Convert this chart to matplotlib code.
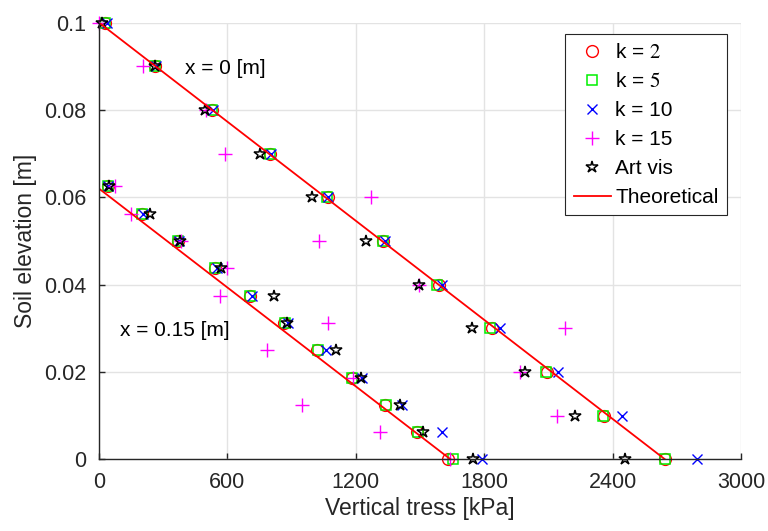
import numpy as np
import matplotlib
matplotlib.use('Agg')
import matplotlib.pyplot as plt
from matplotlib.ticker import FuncFormatter

plt.rcParams['font.family'] = ['Liberation Sans', 'DejaVu Sans']
plt.rcParams['mathtext.fontset'] = 'stix'

# elevations [m]
z_top = [0.1, 0.09, 0.08, 0.07, 0.06, 0.05, 0.04, 0.03, 0.02, 0.01, 0.0]
z_bot = [0.0625, 0.05625, 0.05, 0.04375, 0.0375, 0.03125, 0.025, 0.01875, 0.0125, 0.00625, 0.0]

# vertical stress [kPa], x = 0 m
k2_top = [30, 262, 526, 799, 1068, 1329, 1586, 1835, 2095, 2361, 2645]
k5_top = [30, 262, 526, 799, 1066, 1327, 1580, 1828, 2088, 2355, 2645]
k10_top = [35, 265, 534, 804, 1072, 1336, 1601, 1874, 2143, 2445, 2793]
k15_top = [0, 204, 500, 589, 1271, 1028, 1495, 2178, 1967, 2139, np.nan]
art_top = [15, 262, 495, 752, 997, 1245, 1495, 1741, 1991, 2224, 2458]

# vertical stress [kPa], x = 0.15 m
k2_bot = [40, 199, 371, 542, 703, 866, 1017, 1181, 1336, 1484, 1629]
k5_bot = [40, 199, 371, 542, 705, 868, 1022, 1181, 1341, 1492, 1653]
k10_bot = [41, 207, 375, 550, 713, 882, 1059, 1227, 1414, 1604, 1788]
k15_bot = [75, 150, 385, 597, 565, 1068, 784, 1188, 947, 1313, 1640]
art_bot = [47, 238, 378, 570, 819, 880, 1106, 1224, 1407, 1515, 1749]

# theoretical lines
theo_top_x = [0, 2645]
theo_top_z = [0.1, 0.0]
theo_bot_x = [0, 1643]
theo_bot_z = [0.062, 0.0]

fig = plt.figure(figsize=(7.68, 5.31), dpi=100)
ax = fig.add_axes([0.129, 0.1347, 0.836, 0.8226])

def series(xt, xb, **kw):
    x = list(xt) + [np.nan] + list(xb)
    z = list(z_top) + [np.nan] + list(z_bot)
    return ax.plot(x, z, linestyle='none', markerfacecolor='none', clip_on=False, **kw)

series(k2_top, k2_bot, marker='o', color='#ff0000', markersize=8.5, markeredgewidth=1.0, label='k = $2$')
series(k5_top, k5_bot, marker='s', color='#00f000', markersize=6.5, markeredgewidth=1.1, label='k = $5$')
series(k10_top, k10_bot, marker='x', color='#0000ff', markersize=7, markeredgewidth=1.0, label='k = 10')
series(k15_top, k15_bot, marker='+', color='#ff00ff', markersize=10, markeredgewidth=1.0, label='k = 15')
series(art_top, art_bot, marker='*', color='black', markersize=9, markeredgewidth=1.1, label='Art vis')

ax.plot(theo_top_x, theo_top_z, color='#ff0000', linewidth=1.3, label='Theoretical')
ax.plot(theo_bot_x, theo_bot_z, color='#ff0000', linewidth=1.3)

ax.text(402, 0.0896, 'x = 0 [m]', fontsize=15, va='center', ha='left')
ax.text(100, 0.0296, 'x = 0.15 [m]', fontsize=15, va='center', ha='left')

ax.set_xlim(0, 3000)
ax.set_ylim(0, 0.1)
ax.set_xticks([0, 600, 1200, 1800, 2400, 3000])
ax.set_yticks([0, 0.02, 0.04, 0.06, 0.08, 0.1])
ax.yaxis.set_major_formatter(FuncFormatter(lambda v, p: f'{v:g}'))
ax.grid(True, color='#e3e3e3', linewidth=1.0)
ax.set_axisbelow(True)

ax.spines['top'].set_visible(False)
ax.spines['right'].set_visible(False)
for s in ['left', 'bottom']:
    ax.spines[s].set_color('#262626')
    ax.spines[s].set_linewidth(1.0)
ax.tick_params(direction='in', length=4, width=1, colors='#262626', labelsize=15.5,
               labelcolor='#262626', pad=9)

ax.set_xlabel('Vertical tress [kPa]', fontsize=16.5, color='#262626', labelpad=3)
ax.set_ylabel('Soil elevation [m]', fontsize=16.5, color='#262626', labelpad=5)

leg = ax.legend(loc='upper right', bbox_to_anchor=(0.978, 0.973), fontsize=15,
                frameon=True, fancybox=False, edgecolor='#262626', framealpha=1,
                handlelength=1.8, handletextpad=0.2, borderpad=0.4, labelspacing=0.48,
                borderaxespad=0)
leg.get_frame().set_linewidth(0.8)

fig.savefig('out.png', dpi=100)
